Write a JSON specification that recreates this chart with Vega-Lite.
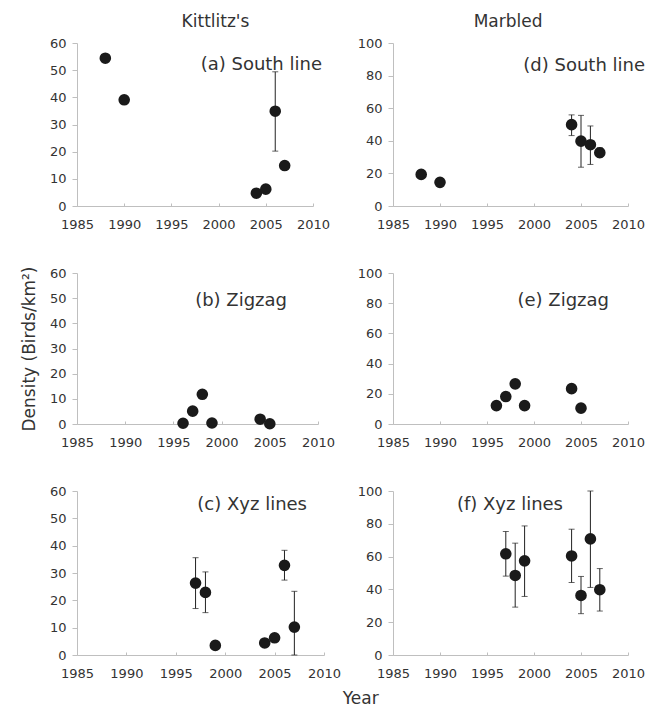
{
  "$schema": "https://vega.github.io/schema/vega-lite/v6.json",
  "background": "white",
  "padding": {"left": 20, "top": 13, "right": 5, "bottom": 0},
  "datasets": {
    "birds": [
      {"panel": "a", "year": 1988, "density": 54.4},
      {"panel": "a", "year": 1990, "density": 39.1},
      {"panel": "a", "year": 2004, "density": 4.7},
      {"panel": "a", "year": 2005, "density": 6.2},
      {"panel": "a", "year": 2006, "density": 34.9, "lo": 20.2, "hi": 49.4},
      {"panel": "a", "year": 2007, "density": 14.9},
      {"panel": "b", "year": 1996, "density": 0.3},
      {"panel": "b", "year": 1997, "density": 5.1},
      {"panel": "b", "year": 1998, "density": 11.8},
      {"panel": "b", "year": 1999, "density": 0.4},
      {"panel": "b", "year": 2004, "density": 1.9},
      {"panel": "b", "year": 2005, "density": 0.1},
      {"panel": "c", "year": 1997, "density": 26.3, "lo": 17.0, "hi": 35.6},
      {"panel": "c", "year": 1998, "density": 22.9, "lo": 15.5, "hi": 30.4},
      {"panel": "c", "year": 1999, "density": 3.5},
      {"panel": "c", "year": 2004, "density": 4.4},
      {"panel": "c", "year": 2005, "density": 6.3},
      {"panel": "c", "year": 2006, "density": 32.8, "lo": 27.4, "hi": 38.3},
      {"panel": "c", "year": 2007, "density": 10.2, "lo": 0, "hi": 23.3},
      {"panel": "d", "year": 1988, "density": 19.4},
      {"panel": "d", "year": 1990, "density": 14.5},
      {"panel": "d", "year": 2004, "density": 49.9, "lo": 43.2, "hi": 55.9},
      {"panel": "d", "year": 2005, "density": 39.8, "lo": 23.8, "hi": 55.6},
      {"panel": "d", "year": 2006, "density": 37.6, "lo": 25.5, "hi": 49.1},
      {"panel": "d", "year": 2007, "density": 32.7, "lo": 30.0, "hi": 35.8},
      {"panel": "e", "year": 1996, "density": 12.2},
      {"panel": "e", "year": 1997, "density": 18.2},
      {"panel": "e", "year": 1998, "density": 26.6},
      {"panel": "e", "year": 1999, "density": 12.2},
      {"panel": "e", "year": 2004, "density": 23.4},
      {"panel": "e", "year": 2005, "density": 10.5},
      {"panel": "f", "year": 1997, "density": 61.7, "lo": 48.1, "hi": 75.3},
      {"panel": "f", "year": 1998, "density": 48.5, "lo": 29.2, "hi": 68.2},
      {"panel": "f", "year": 1999, "density": 57.4, "lo": 35.7, "hi": 78.7},
      {"panel": "f", "year": 2004, "density": 60.4, "lo": 44.2, "hi": 76.7},
      {"panel": "f", "year": 2005, "density": 36.3, "lo": 25.2, "hi": 47.9},
      {"panel": "f", "year": 2006, "density": 70.8, "lo": 41.2, "hi": 100},
      {"panel": "f", "year": 2007, "density": 39.8, "lo": 26.8, "hi": 52.7}
    ]
  },
  "title": {"text": "Year", "orient": "bottom", "anchor": "middle", "dx": 28, "offset": 11, "fontSize": 17, "fontWeight": "normal", "font": "DejaVu Sans", "color": "#333"},
  "spacing": 16,
  "hconcat": [
    {
      "title": {"text": "Kittlitz's", "dx": 35, "offset": 6},
      "bounds": "flush",
      "spacing": 67,
      "vconcat": [
        {
          "width": 236, "height": 163,
          "title": {"text": "(a) South line", "anchor": "end", "frame": "group", "baseline": "alphabetic", "dx": 9, "offset": -50.5, "fontSize": 18},
          "data": {"name": "birds"},
          "transform": [{"filter": "datum.panel === 'a'"}],
          "encoding": {
            "x": {"field": "year", "type": "quantitative", "scale": {"domain": [1985, 2010], "nice": false}, "axis": {"values": [1985, 1990, 1995, 2000, 2005, 2010], "format": "d", "title": null}},
            "y": {"field": "density", "type": "quantitative", "scale": {"domain": [0, 60], "nice": false}, "axis": {"values": [0, 10, 20, 30, 40, 50, 60], "title": null}}
          },
          "layer": [
            {"transform": [{"filter": "isValid(datum.lo)"}], "mark": {"type": "rule", "color": "#222", "strokeWidth": 1}, "encoding": {"y": {"field": "lo", "type": "quantitative"}, "y2": {"field": "hi"}}},
            {"transform": [{"filter": "isValid(datum.lo)"}], "mark": {"type": "tick", "orient": "horizontal", "size": 6, "thickness": 1, "color": "#222"}, "encoding": {"y": {"field": "hi", "type": "quantitative"}}},
            {"transform": [{"filter": "isValid(datum.lo)"}], "mark": {"type": "tick", "orient": "horizontal", "size": 6, "thickness": 1, "color": "#222"}, "encoding": {"y": {"field": "lo", "type": "quantitative"}}},
            {"mark": {"type": "circle", "size": 135, "color": "#1a1a1a", "opacity": 1}}
          ]
        },
        {
          "width": 241, "height": 151,
          "title": {"text": "(b) Zigzag", "anchor": "end", "frame": "group", "baseline": "alphabetic", "dx": -31, "offset": -61, "fontSize": 18},
          "data": {"name": "birds"},
          "transform": [{"filter": "datum.panel === 'b'"}],
          "encoding": {
            "x": {"field": "year", "type": "quantitative", "scale": {"domain": [1985, 2010], "nice": false}, "axis": {"values": [1985, 1990, 1995, 2000, 2005, 2010], "format": "d", "title": null}},
            "y": {"field": "density", "type": "quantitative", "scale": {"domain": [0, 60], "nice": false}, "axis": {"values": [0, 10, 20, 30, 40, 50, 60], "title": "Density  (Birds/km²)"}}
          },
          "layer": [
            {"mark": {"type": "circle", "size": 135, "color": "#1a1a1a", "opacity": 1}}
          ]
        },
        {
          "width": 247, "height": 164,
          "title": {"text": "(c) Xyz lines", "anchor": "end", "frame": "group", "baseline": "alphabetic", "dx": -17, "offset": -43, "fontSize": 18},
          "data": {"name": "birds"},
          "transform": [{"filter": "datum.panel === 'c'"}],
          "encoding": {
            "x": {"field": "year", "type": "quantitative", "scale": {"domain": [1985, 2010], "nice": false}, "axis": {"values": [1985, 1990, 1995, 2000, 2005, 2010], "format": "d", "title": null}},
            "y": {"field": "density", "type": "quantitative", "scale": {"domain": [0, 60], "nice": false}, "axis": {"values": [0, 10, 20, 30, 40, 50, 60], "title": null}}
          },
          "layer": [
            {"transform": [{"filter": "isValid(datum.lo)"}], "mark": {"type": "rule", "color": "#222", "strokeWidth": 1}, "encoding": {"y": {"field": "lo", "type": "quantitative"}, "y2": {"field": "hi"}}},
            {"transform": [{"filter": "isValid(datum.lo)"}], "mark": {"type": "tick", "orient": "horizontal", "size": 6, "thickness": 1, "color": "#222"}, "encoding": {"y": {"field": "hi", "type": "quantitative"}}},
            {"transform": [{"filter": "isValid(datum.lo)"}], "mark": {"type": "tick", "orient": "horizontal", "size": 6, "thickness": 1, "color": "#222"}, "encoding": {"y": {"field": "lo", "type": "quantitative"}}},
            {"mark": {"type": "circle", "size": 135, "color": "#1a1a1a", "opacity": 1}}
          ]
        }
      ]
    },
    {
      "title": {"text": "Marbled", "dx": 7, "offset": 6},
      "bounds": "flush",
      "spacing": 67,
      "vconcat": [
        {
          "width": 235, "height": 163,
          "title": {"text": "(d) South line", "anchor": "end", "frame": "group", "baseline": "alphabetic", "dx": 17, "offset": -52, "fontSize": 18},
          "data": {"name": "birds"},
          "transform": [{"filter": "datum.panel === 'd'"}],
          "encoding": {
            "x": {"field": "year", "type": "quantitative", "scale": {"domain": [1985, 2010], "nice": false}, "axis": {"values": [1985, 1990, 1995, 2000, 2005, 2010], "format": "d", "title": null}},
            "y": {"field": "density", "type": "quantitative", "scale": {"domain": [0, 100], "nice": false}, "axis": {"values": [0, 20, 40, 60, 80, 100], "title": null}}
          },
          "layer": [
            {"transform": [{"filter": "isValid(datum.lo)"}], "mark": {"type": "rule", "color": "#222", "strokeWidth": 1}, "encoding": {"y": {"field": "lo", "type": "quantitative"}, "y2": {"field": "hi"}}},
            {"transform": [{"filter": "isValid(datum.lo)"}], "mark": {"type": "tick", "orient": "horizontal", "size": 6, "thickness": 1, "color": "#222"}, "encoding": {"y": {"field": "hi", "type": "quantitative"}}},
            {"transform": [{"filter": "isValid(datum.lo)"}], "mark": {"type": "tick", "orient": "horizontal", "size": 6, "thickness": 1, "color": "#222"}, "encoding": {"y": {"field": "lo", "type": "quantitative"}}},
            {"mark": {"type": "circle", "size": 135, "color": "#1a1a1a", "opacity": 1}}
          ]
        },
        {
          "width": 235, "height": 151,
          "title": {"text": "(e) Zigzag", "anchor": "end", "frame": "group", "baseline": "alphabetic", "dx": -19, "offset": -57, "fontSize": 18},
          "data": {"name": "birds"},
          "transform": [{"filter": "datum.panel === 'e'"}],
          "encoding": {
            "x": {"field": "year", "type": "quantitative", "scale": {"domain": [1985, 2010], "nice": false}, "axis": {"values": [1985, 1990, 1995, 2000, 2005, 2010], "format": "d", "title": null}},
            "y": {"field": "density", "type": "quantitative", "scale": {"domain": [0, 100], "nice": false}, "axis": {"values": [0, 20, 40, 60, 80, 100], "title": null}}
          },
          "layer": [
            {"mark": {"type": "circle", "size": 135, "color": "#1a1a1a", "opacity": 1}}
          ]
        },
        {
          "width": 235, "height": 164,
          "title": {"text": "(f) Xyz lines", "anchor": "end", "frame": "group", "baseline": "alphabetic", "dx": -65, "offset": -43, "fontSize": 18},
          "data": {"name": "birds"},
          "transform": [{"filter": "datum.panel === 'f'"}],
          "encoding": {
            "x": {"field": "year", "type": "quantitative", "scale": {"domain": [1985, 2010], "nice": false}, "axis": {"values": [1985, 1990, 1995, 2000, 2005, 2010], "format": "d", "title": null}},
            "y": {"field": "density", "type": "quantitative", "scale": {"domain": [0, 100], "nice": false}, "axis": {"values": [0, 20, 40, 60, 80, 100], "title": null}}
          },
          "layer": [
            {"transform": [{"filter": "isValid(datum.lo)"}], "mark": {"type": "rule", "color": "#222", "strokeWidth": 1}, "encoding": {"y": {"field": "lo", "type": "quantitative"}, "y2": {"field": "hi"}}},
            {"transform": [{"filter": "isValid(datum.lo)"}], "mark": {"type": "tick", "orient": "horizontal", "size": 6, "thickness": 1, "color": "#222"}, "encoding": {"y": {"field": "hi", "type": "quantitative"}}},
            {"transform": [{"filter": "isValid(datum.lo)"}], "mark": {"type": "tick", "orient": "horizontal", "size": 6, "thickness": 1, "color": "#222"}, "encoding": {"y": {"field": "lo", "type": "quantitative"}}},
            {"mark": {"type": "circle", "size": 135, "color": "#1a1a1a", "opacity": 1}}
          ]
        }
      ]
    }
  ],
  "config": {
    "font": "DejaVu Sans",
    "view": {"stroke": null},
    "title": {"fontSize": 17, "fontWeight": "normal", "font": "DejaVu Sans", "color": "#333", "anchor": "middle"},
    "axis": {"grid": false, "domainColor": "#bfbfbf", "tickColor": "#bfbfbf", "labelColor": "#333", "labelFont": "DejaVu Sans", "labelFontSize": 13, "titleFont": "DejaVu Sans", "titleFontSize": 17, "titleFontWeight": "normal", "titleColor": "#333", "tickSize": 5, "labelOverlap": false, "labelFlush": false},
    "axisY": {"labelPadding": 6, "titlePadding": 11},
    "axisX": {"tickSize": -3, "labelPadding": 15}
  }
}
